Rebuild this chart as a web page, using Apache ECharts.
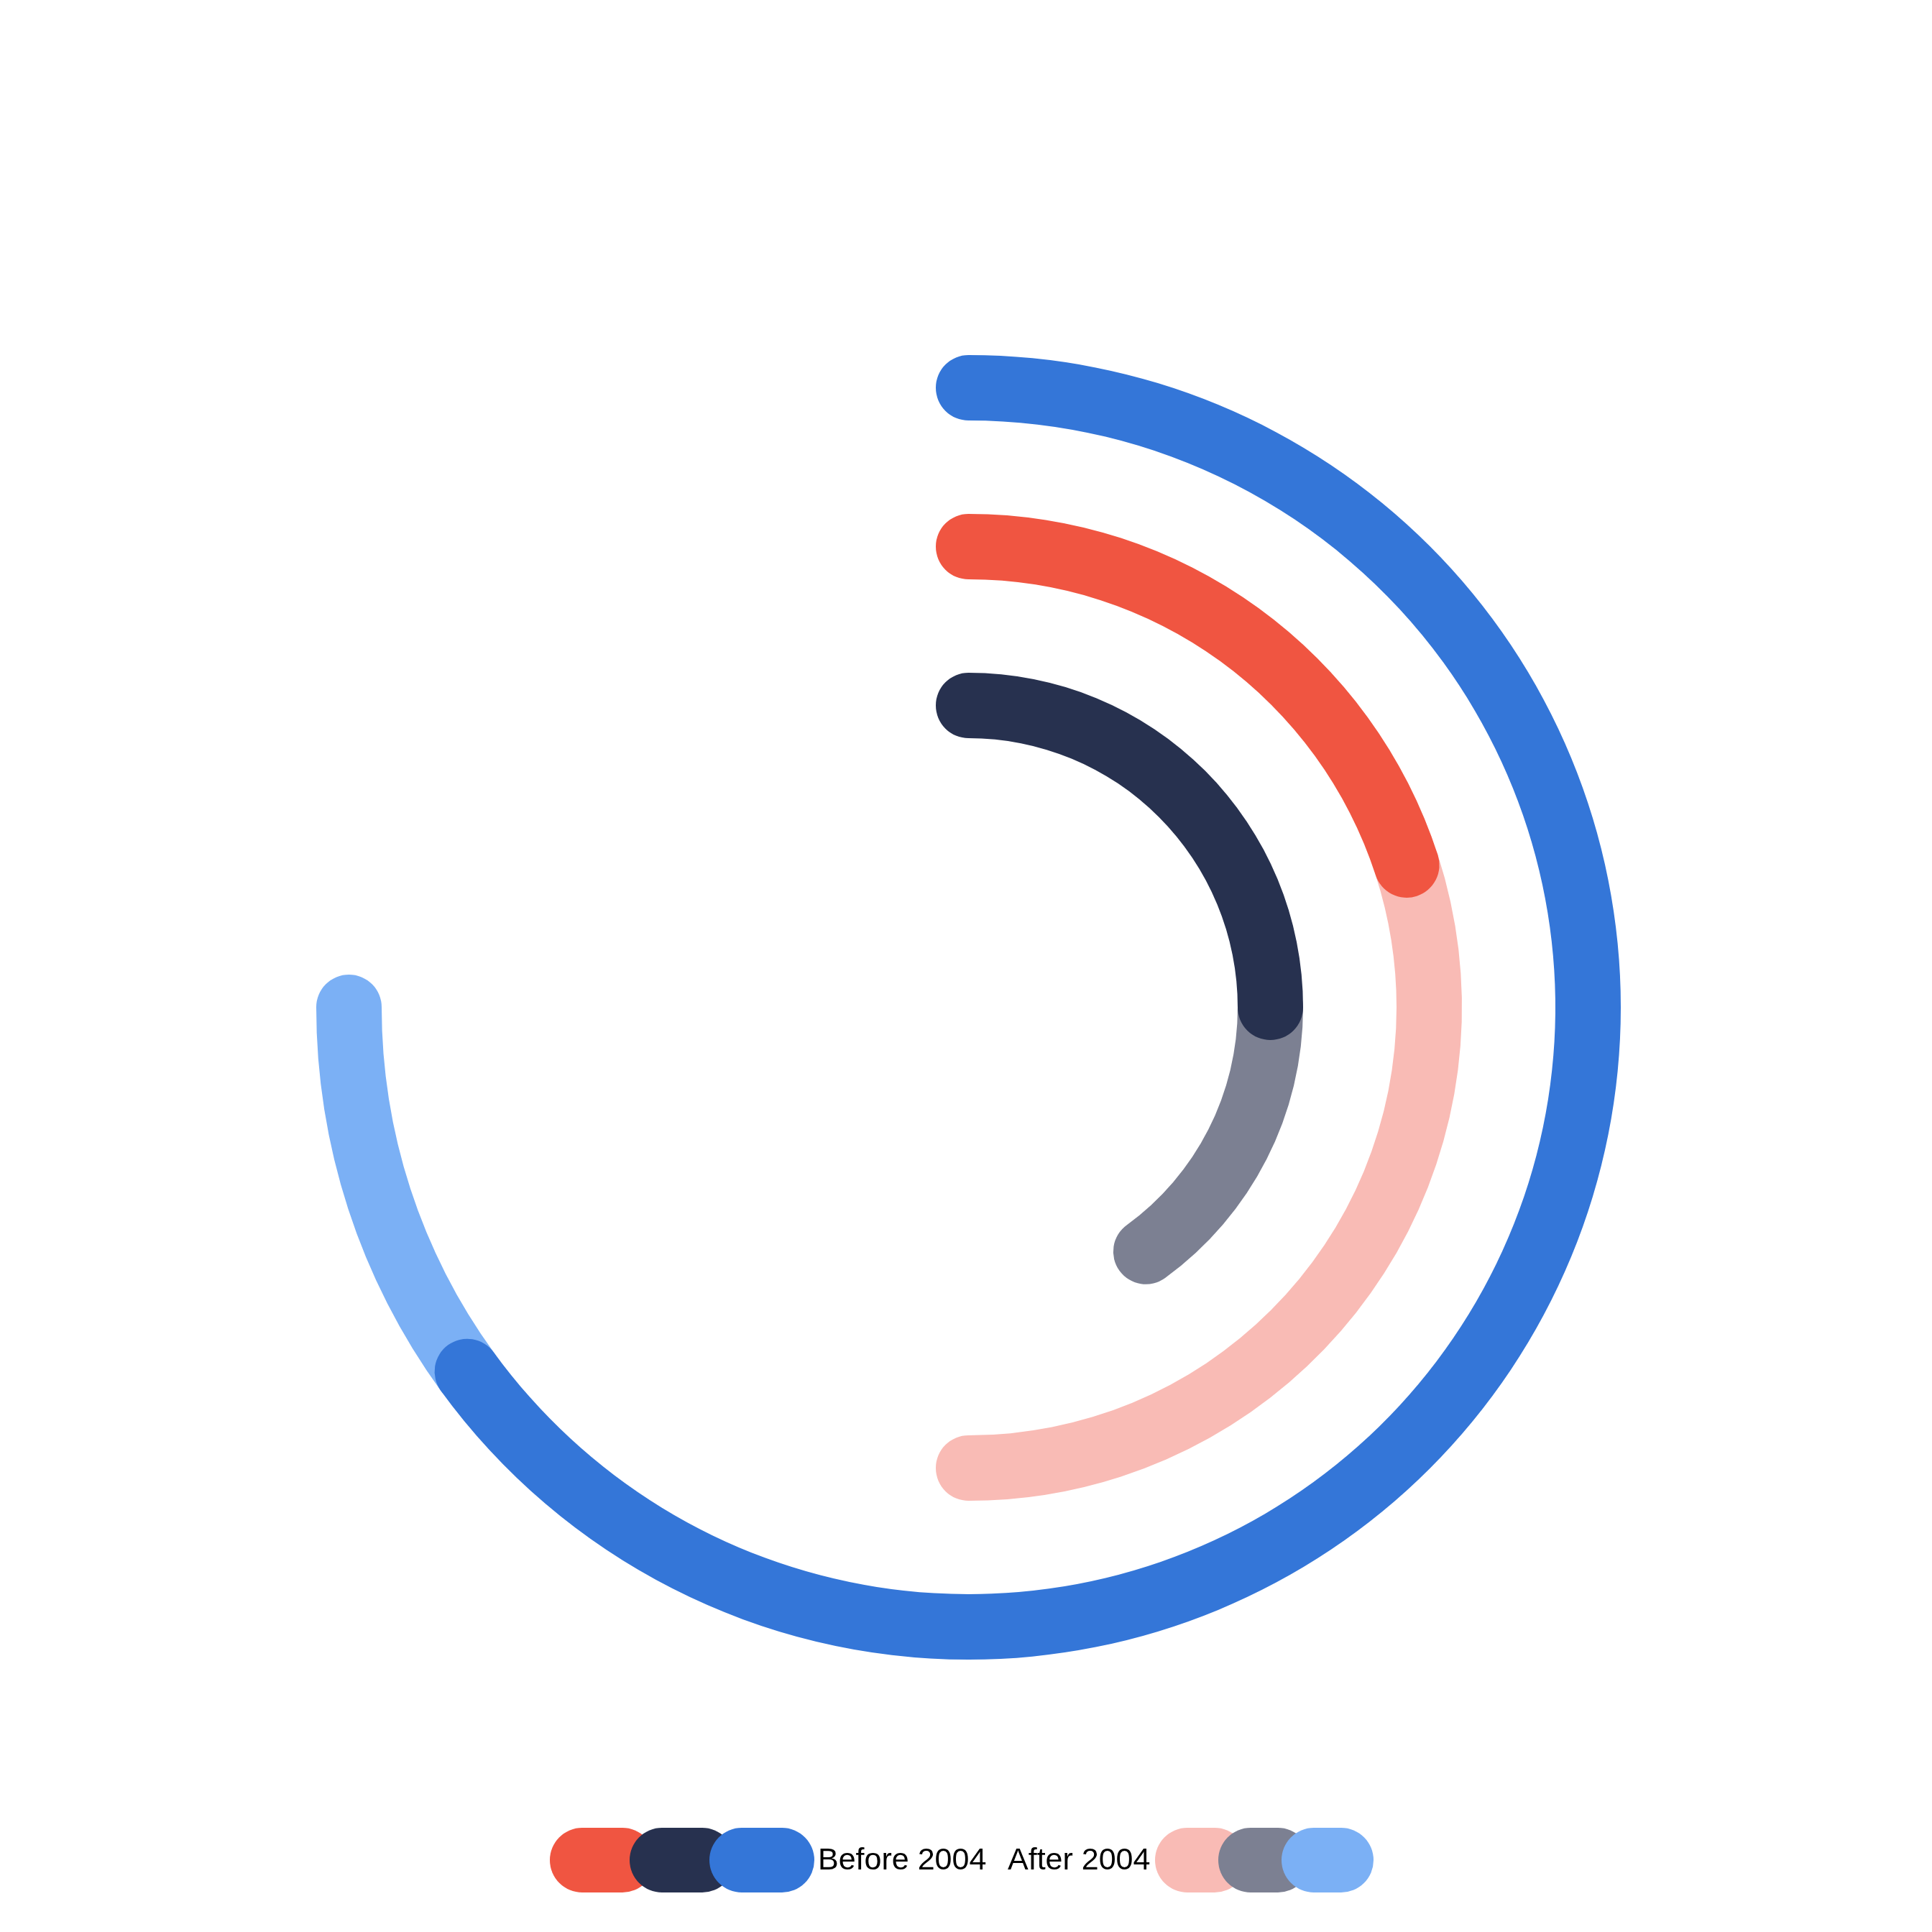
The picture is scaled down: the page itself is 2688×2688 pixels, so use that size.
<!DOCTYPE html>
<html>
<head>
<meta charset="utf-8">
<script src="https://cdn.jsdelivr.net/npm/echarts@6/dist/echarts.min.js"></script>
<style>html,body{margin:0;padding:0;background:#fff}#c{width:2688px;height:2688px}</style>
</head>
<body>
<div id="c"></div>
<script>
// Categories from inner ring to outer ring
const categories = ['Group A', 'Group B', 'Group C'];
const seriesNames = ['Before 2004', 'After 2004'];
const beforeValues = [25, 20, 65];
const afterValues = [15, 30, 10];
const beforeColors = ['#27314F', '#F05541', '#3476D8'];
const afterColors = ['#7C8092', '#F9BBB5', '#7BB0F5'];
const legendBeforeColors = ['#F05541', '#27314F', '#3476D8'];
const legendAfterColors = ['#F9BBB5', '#7C8092', '#7BB0F5'];
const angleMax = 100;

const chart = echarts.init(document.getElementById('c'));

function pills(colors, x0, step, w) {
  return colors.map((c, i) => ({
    type: 'rect',
    shape: { x: x0 + i * step, y: 2543, width: w, height: 90, r: 45 },
    style: { fill: c },
    z: 10
  }));
}

chart.setOption({
  backgroundColor: '#ffffff',
  animation: false,
  polar: { center: [1347.5, 1401.5], radius: [309.5, 972.5] },
  angleAxis: {
    type: 'value', min: 0, max: angleMax, startAngle: 90, clockwise: true,
    show: false, axisLine: { show: false }, splitLine: { show: false }
  },
  radiusAxis: {
    type: 'category', data: categories, show: false,
    axisLine: { show: false }, splitLine: { show: false }
  },
  series: [
    {
      name: seriesNames[0], type: 'bar', coordinateSystem: 'polar', stack: 'total',
      roundCap: true, barWidth: 91, z: 3,
      data: beforeValues.map((v, i) => ({ value: v, itemStyle: { color: beforeColors[i] } }))
    },
    {
      name: seriesNames[1], type: 'bar', coordinateSystem: 'polar', stack: 'total',
      roundCap: true, barWidth: 91, z: 2,
      data: afterValues.map((v, i) => ({ value: v, itemStyle: { color: afterColors[i] } }))
    }
  ],
  graphic: [
    ...pills(legendBeforeColors, 765, 111, 146),
    ...pills(legendAfterColors, 1607, 88, 128),
    {
      type: 'text', left: 1138, top: 2568, z: 11,
      style: { text: seriesNames[0], font: '43px "Liberation Sans", Arial, sans-serif', fill: '#000' }
    },
    {
      type: 'text', left: 1402, top: 2568, z: 11,
      style: { text: seriesNames[1], font: '43px "Liberation Sans", Arial, sans-serif', fill: '#000' }
    }
  ]
});
</script>
</body>
</html>
